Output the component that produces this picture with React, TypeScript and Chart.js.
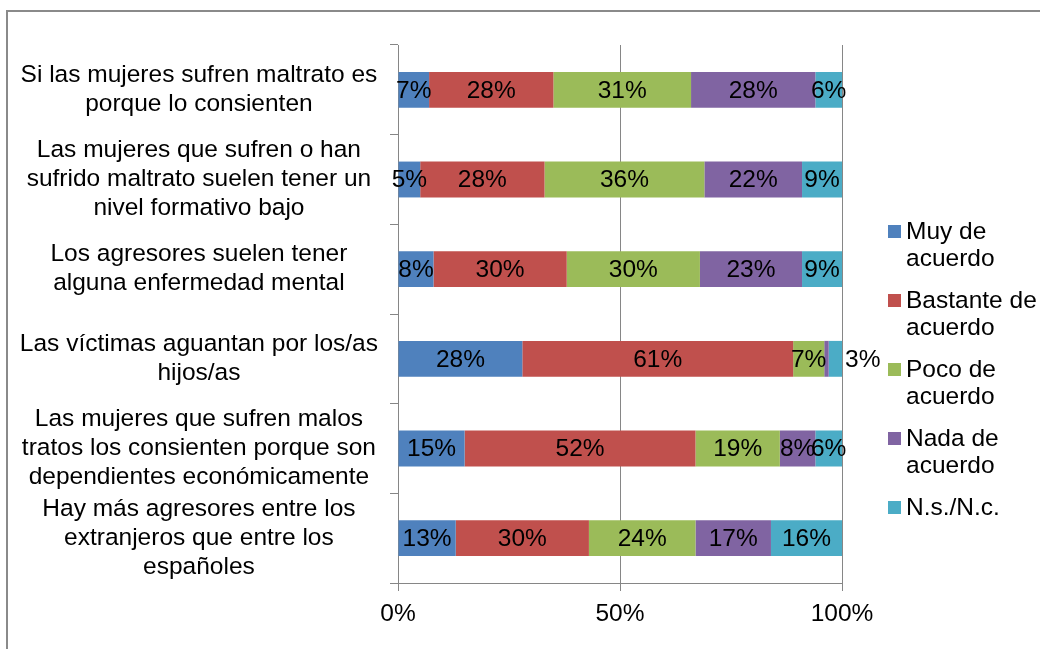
import React, { useEffect, useRef } from "react";
import { Chart, registerables } from "chart.js";

Chart.register(...registerables);

const categories: string[][] = [
  ["Si las mujeres sufren maltrato es", "porque lo consienten"],
  ["Las mujeres que sufren o han", "sufrido maltrato suelen tener un", "nivel formativo bajo"],
  ["Los agresores suelen tener", "alguna enfermedad mental"],
  ["Las víctimas aguantan por los/as", "hijos/as"],
  ["Las mujeres que sufren malos", "tratos los consienten porque son", "dependientes económicamente"],
  ["Hay más agresores entre los", "extranjeros que entre los", "españoles"],
];

const seriesNames = ["Muy de acuerdo", "Bastante de acuerdo", "Poco de acuerdo", "Nada de acuerdo", "N.s./N.c."];

const muyDeAcuerdo = [7, 5, 8, 28, 15, 13];
const bastanteDeAcuerdo = [28, 28, 30, 61, 52, 30];
const pocoDeAcuerdo = [31, 36, 30, 7, 19, 24];
const nadaDeAcuerdo = [28, 22, 23, 1, 8, 17];
const nsNc = [6, 9, 9, 3, 6, 16];

const xTickValues = [0, 50, 100];

const seriesColors = ["#4F81BD", "#C0504D", "#9BBB59", "#8064A2", "#4BACC6"];

const FONT_FAMILY = '"Liberation Sans", Arial, sans-serif';
const FONT_SIZE = 24.5;
const GRID = "#868686";

const barLabels = {
  id: "barLabels",
  afterDatasetsDraw(chart: any) {
    const ctx = chart.ctx;
    ctx.save();
    ctx.font = `${FONT_SIZE}px ${FONT_FAMILY}`;
    ctx.fillStyle = "#000";
    ctx.textBaseline = "middle";
    chart.data.datasets.forEach((ds: any, di: number) => {
      const meta = chart.getDatasetMeta(di);
      meta.data.forEach((el: any, i: number) => {
        const v = ds.data[i];
        if (v < 2) return;
        const { x, y, base } = el.getProps(["x", "y", "base"], true);
        const w = Math.abs(x - base);
        const text = `${v}%`;
        if (w < 16) {
          ctx.textAlign = "left";
          ctx.fillText(text, Math.max(x, base) + 3, y + 1);
        } else {
          ctx.textAlign = "center";
          ctx.fillText(text, (x + base) / 2, y + 1);
        }
      });
    });
    ctx.restore();
  },
};

const sideLegend = {
  id: "sideLegend",
  afterDraw(chart: any) {
    const ctx = chart.ctx;
    ctx.save();
    ctx.font = `${FONT_SIZE}px ${FONT_FAMILY}`;
    ctx.textBaseline = "middle";
    ctx.textAlign = "left";
    const boxX = chart.chartArea.right + 46;
    const textX = boxX + 18;
    const maxW = 140;
    const lineH = 27.5;
    const pitch = 69;
    let y = 232;
    chart.data.datasets.forEach((ds: any) => {
      const words = String(ds.label).split(" ");
      const lines: string[] = [];
      let cur = "";
      words.forEach((w) => {
        const t = cur ? cur + " " + w : w;
        if (cur && ctx.measureText(t).width > maxW) {
          lines.push(cur);
          cur = w;
        } else cur = t;
      });
      if (cur) lines.push(cur);
      ctx.fillStyle = ds.backgroundColor;
      ctx.fillRect(boxX, y - 7, 13, 13);
      ctx.fillStyle = "#000";
      lines.forEach((ln, li) => ctx.fillText(ln, textX, y + li * lineH));
      y += pitch;
    });
    ctx.restore();
  },
};

export default function App() {
  const ref = useRef<HTMLCanvasElement | null>(null);

  useEffect(() => {
    if (!ref.current) return;
    const values = [muyDeAcuerdo, bastanteDeAcuerdo, pocoDeAcuerdo, nadaDeAcuerdo, nsNc];
    const chart = new Chart(ref.current, {
      type: "bar",
      data: {
        labels: categories,
        datasets: seriesNames.map((name, i) => ({
          label: name,
          data: values[i],
          backgroundColor: seriesColors[i],
          borderWidth: 0,
          barPercentage: 1,
          categoryPercentage: 0.4,
        })),
      },
      options: {
        indexAxis: "y",
        animation: false,
        responsive: true,
        maintainAspectRatio: false,
        layout: { padding: { top: 45, right: 198, bottom: 0, left: 0 } },
        plugins: {
          legend: { display: false },
          tooltip: { enabled: false },
        },
        scales: {
          x: {
            stacked: true,
            min: 0,
            max: 100,
            afterBuildTicks: (scale: any) => {
              scale.ticks = xTickValues.map((v) => ({ value: v }));
            },
            afterFit: (scale: any) => {
              scale.height = 66;
              scale.paddingLeft = 0;
              scale.paddingRight = 0;
            },
            ticks: {
              callback: (v: any) => `${v}%`,
              color: "#000",
              font: { family: FONT_FAMILY, size: FONT_SIZE },
              padding: 9,
              maxRotation: 0,
            },
            grid: { color: GRID, lineWidth: 1, drawTicks: true, tickLength: 8 },
            border: { color: GRID, width: 1 },
          },
          y: {
            stacked: true,
            afterFit: (scale: any) => {
              scale.width = 398;
              scale.paddingTop = 0;
              scale.paddingBottom = 0;
            },
            ticks: {
              autoSkip: false,
              crossAlign: "center",
              color: "#000",
              font: { family: FONT_FAMILY, size: FONT_SIZE, lineHeight: 1.18 },
              padding: 12,
            },
            grid: {
              offset: true,
              drawOnChartArea: false,
              drawTicks: true,
              tickLength: 8,
              color: GRID,
            },
            border: { color: GRID, width: 1 },
          },
        },
      },
      plugins: [barLabels, sideLegend],
    });
    return () => chart.destroy();
  }, []);

  return (
    <>
      <div
        style={{
          position: "absolute",
          left: 6,
          top: 10,
          width: 1034,
          height: 639,
          boxSizing: "border-box",
          borderTop: "2px solid #8a8a8a",
          borderLeft: "2px solid #8a8a8a",
          background: "#fff",
        }}
      />
      <div style={{ position: "absolute", left: 0, top: 0, width: 1040, height: 649 }}>
        <canvas ref={ref} />
      </div>
    </>
  );
}
